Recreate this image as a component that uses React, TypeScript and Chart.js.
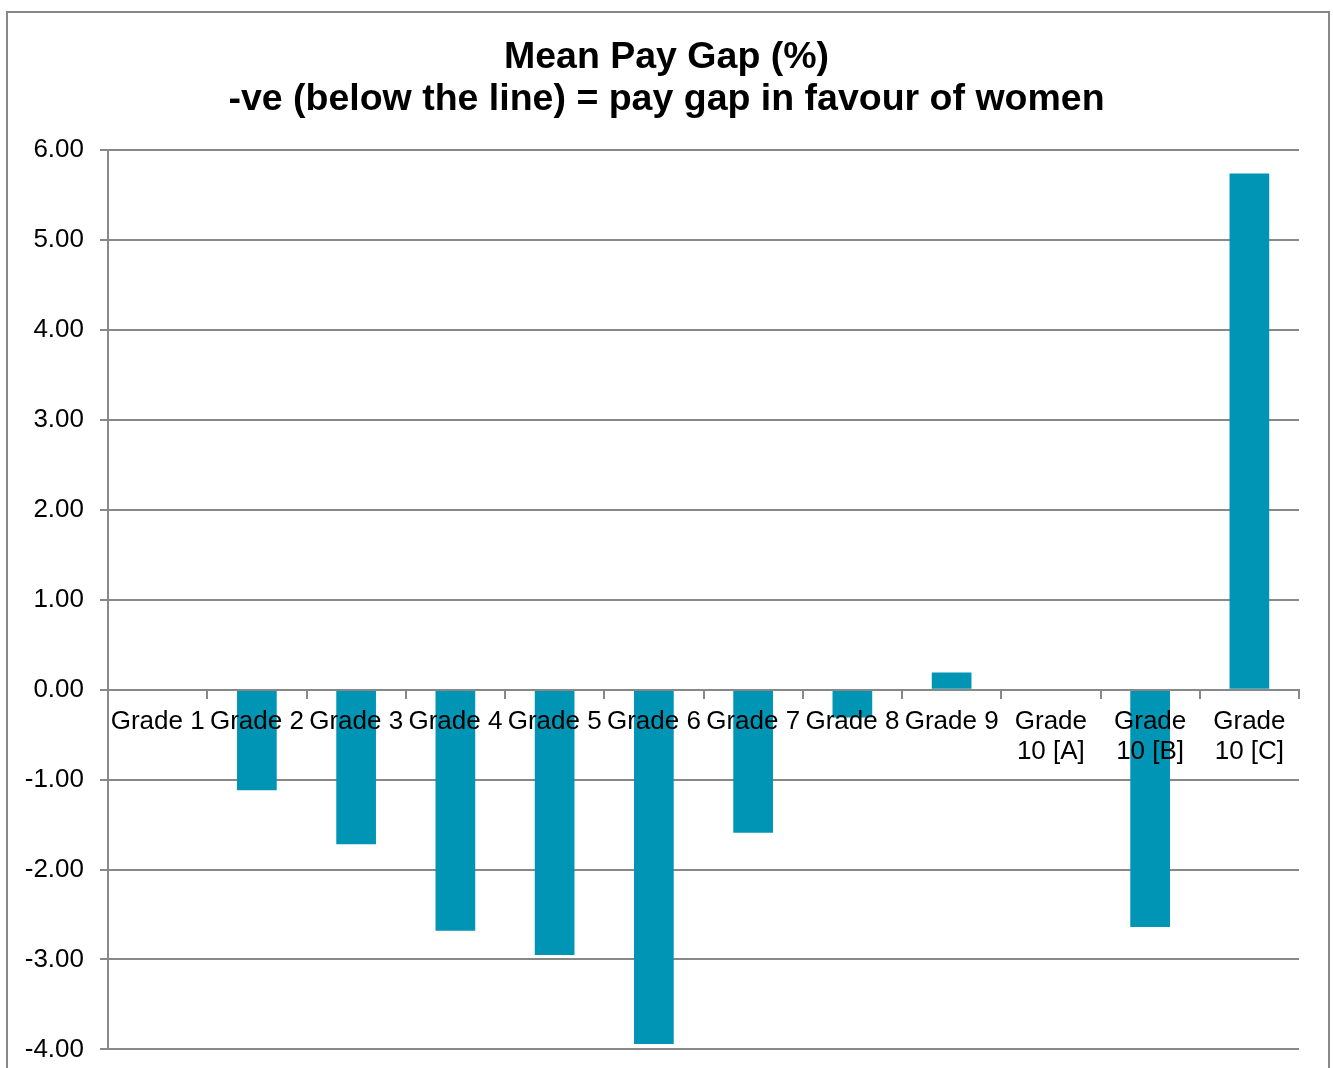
import React, { useEffect, useRef } from "react";
import { Chart, registerables } from "chart.js";

Chart.register(...registerables);

const categories: (string | string[])[] = [
  "Grade 1",
  "Grade 2",
  "Grade 3",
  "Grade 4",
  "Grade 5",
  "Grade 6",
  "Grade 7",
  "Grade 8",
  "Grade 9",
  ["Grade", "10 [A]"],
  ["Grade", "10 [B]"],
  ["Grade", "10 [C]"],
];

const meanPayGap: number[] = [0, -1.12, -1.72, -2.68, -2.95, -3.94, -1.59, -0.31, 0.19, 0, -2.64, 5.74];

const titleLines: string[] = ["Mean Pay Gap (%)", "-ve (below the line) = pay gap in favour of women"];

const FONT = "'Liberation Sans', Arial, sans-serif";
const GRID = "#888888";

export default function App() {
  const ref = useRef<HTMLCanvasElement | null>(null);

  useEffect(() => {
    if (!ref.current) return;
    const chart = new Chart(ref.current, {
      type: "bar",
      data: {
        labels: categories,
        datasets: [
          {
            label: "Mean Pay Gap (%)",
            data: meanPayGap,
            backgroundColor: "#0095B4",
            borderWidth: 0,
            barPercentage: 0.4,
            categoryPercentage: 1,
          },
        ],
      },
      options: {
        responsive: false,
        animation: false,
        layout: { padding: { left: 0, right: 0, top: 0, bottom: 7 } },
        plugins: {
          legend: { display: false },
          tooltip: { enabled: false },
          title: {
            display: true,
            text: titleLines,
            color: "#000000",
            font: { family: FONT, size: 37.5, weight: "bold", lineHeight: 1.12 },
            padding: { top: 37, bottom: 29 },
          },
        },
        scales: {
          x: {
            position: { y: 0 },
            offset: true,
            grid: {
              offset: true,
              drawOnChartArea: false,
              drawTicks: true,
              tickLength: 8,
              color: GRID,
              lineWidth: 2,
              z: 1,
            },
            border: { display: true, color: GRID, width: 2, z: 1 },
            ticks: {
              z: 2,
              color: "#000000",
              font: { family: FONT, size: 26, lineHeight: 1.15 },
              padding: 9,
              maxRotation: 0,
              minRotation: 0,
              autoSkip: false,
            },
          },
          y: {
            min: -4,
            max: 6,
            afterFit: (s: any) => {
              s.width = 108;
            },
            grid: {
              color: GRID,
              lineWidth: 2,
              drawTicks: true,
              tickLength: 8,
            },
            border: { display: true, color: GRID, width: 2 },
            ticks: {
              stepSize: 1,
              color: "#000000",
              font: { family: FONT, size: 26 },
              padding: 16,
              callback: (v: any) => Number(v).toFixed(2),
            },
          },
          yRight: {
            position: "right",
            min: -4,
            max: 6,
            afterFit: (s: any) => {
              s.width = 34;
            },
            grid: { display: false, drawOnChartArea: false },
            border: { display: false },
            ticks: { display: false },
          },
        },
      },
    });
    return () => chart.destroy();
  }, []);

  return (
    <div style={{ position: "absolute", left: 0, top: 0, width: 1333, height: 1068, overflow: "hidden", background: "#fff" }}>
      <div
        style={{
          position: "absolute",
          left: 6,
          top: 11,
          width: 1324,
          height: 1100,
          border: "2px solid #888888",
          boxSizing: "border-box",
        }}
      />
      <canvas ref={ref} width={1333} height={1081} style={{ position: "absolute", left: 0, top: 0 }} />
    </div>
  );
}
